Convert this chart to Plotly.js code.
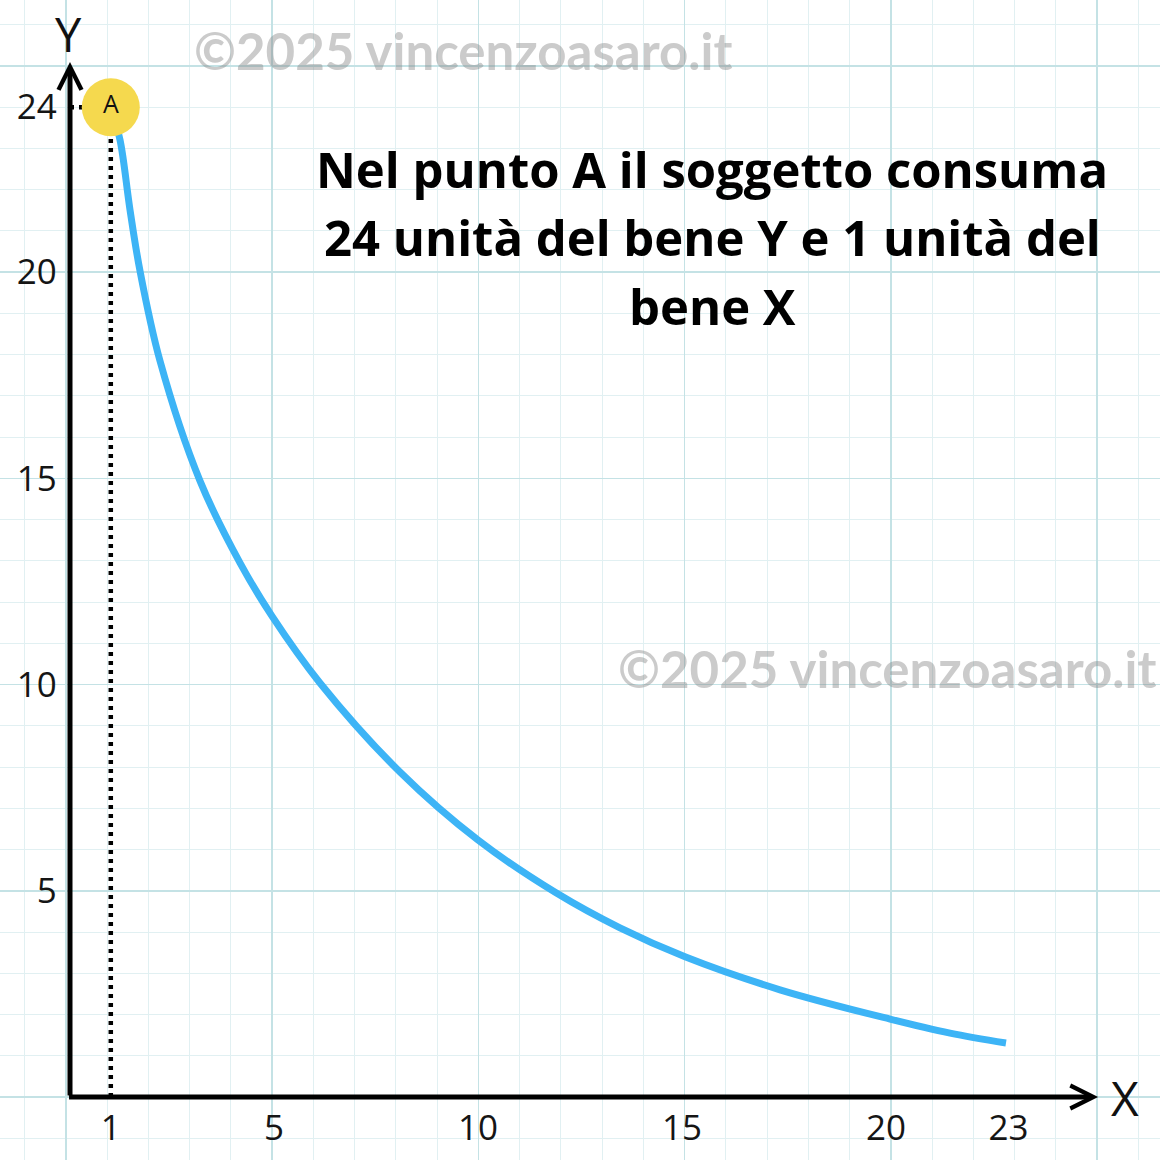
<!DOCTYPE html>
<html>
<head>
<meta charset="utf-8">
<script src="https://cdn.plot.ly/plotly-3.0.1.min.js"></script>
<style>
  html, body { margin: 0; padding: 0; background: #ffffff; }
  #chart { width: 1160px; height: 1160px; }
</style>
</head>
<body>
<div id="chart"></div>
<script>
// indifference curve (x = bene X, y = bene Y)
const curveX = [1, 1.225, 1.471, 1.716, 2.206, 3.186, 4.167, 4.951, 6.127, 8.088, 10.0,
                11.912, 13.480, 15.074, 17.402, 20.098, 21.569, 22.941];
const curveY = [24, 23.21, 21.51, 20.03, 17.85, 14.94, 12.95, 11.66, 10.04, 7.88, 6.23,
                4.95, 4.10, 3.40, 2.60, 1.89, 1.55, 1.31];

// point A
const pointX = [1];
const pointY = [24];
const pointLabel = ['A'];

// tick labels
const xTicks = [1, 5, 10, 15, 20, 23];
const yTicks = [5, 10, 15, 20, 24];

const titleLines = [
    'Nel punto A il soggetto consuma',
    '24 unità del bene Y e 1 unità del',
    'bene X'
];
const watermark = '©2025 vincenzoasaro.it';

const W = 1160, H = 1160;

// pixel helpers for paper coordinates of free text
const px = (v) => v / W;
const py = (v) => 1 - v / H;

// grid axes (background squares), 41.24 px per unit from the corner
const gridRangeX = [-66 / 41.24, (W - 66) / 41.24];
const gridRangeY = [-(H - 1097) / 41.24, 1097 / 41.24];
// data x axis, fitted on tick labels
const dataRangeX = [-70 / 40.8, (W - 70) / 40.8];

const tickFont = { family: 'Open Sans', size: 35, color: '#151515' };
const dotted = { color: '#000000', width: 4.5, dash: '4px,5px' };

let traces = [
    // base subplot holder
    { x: [], y: [], xaxis: 'x', yaxis: 'y', type: 'scatter', mode: 'lines', showlegend: false, hoverinfo: 'skip' },
    // y label axis holder
    { x: [], y: [], xaxis: 'x', yaxis: 'y2', type: 'scatter', mode: 'lines', showlegend: false, hoverinfo: 'skip' },

    // dotted drop lines from A
    {
        x: [pointX[0], pointX[0]], y: [0, pointY[0]],
        xaxis: 'x2', yaxis: 'y', type: 'scatter', mode: 'lines',
        line: dotted, showlegend: false, hoverinfo: 'skip'
    },
    {
        x: [0, pointX[0]], y: [pointY[0], pointY[0]],
        xaxis: 'x2', yaxis: 'y', type: 'scatter', mode: 'lines',
        line: dotted, showlegend: false, hoverinfo: 'skip'
    },

    // curve
    {
        x: curveX, y: curveY,
        xaxis: 'x2', yaxis: 'y', type: 'scatter', mode: 'lines',
        line: { color: '#3db4f6', width: 7, shape: 'spline', smoothing: 1 },
        showlegend: false
    },

    // A
    {
        x: pointX, y: pointY, text: pointLabel,
        xaxis: 'x2', yaxis: 'y', type: 'scatter', mode: 'markers+text',
        marker: { size: 58, color: '#f5d94e', line: { width: 0 } },
        textposition: 'middle center',
        textfont: { family: 'Open Sans', size: 25, color: '#111111' },
        showlegend: false
    }
];

let annotations = [];

// axes with arrows
annotations.push({
    xref: 'x2', yref: 'y', axref: 'x2', ayref: 'y',
    x: 25.2, y: 0, ax: -0.06, ay: 0,
    showarrow: true, arrowhead: 5, arrowsize: 0.9, arrowwidth: 5, arrowcolor: '#000000',
    text: '', standoff: 0, startstandoff: 0
});
annotations.push({
    xref: 'x2', yref: 'y', axref: 'x2', ayref: 'y',
    x: 0, y: 25.1, ax: 0, ay: 0,
    showarrow: true, arrowhead: 5, arrowsize: 0.9, arrowwidth: 5, arrowcolor: '#000000',
    text: '', standoff: 0, startstandoff: 0
});

// axis names
annotations.push({
    xref: 'paper', yref: 'paper', x: px(68), y: py(34), text: 'Y', showarrow: false,
    xanchor: 'center', yanchor: 'middle',
    font: { family: 'Open Sans', size: 47, color: '#111111' }
});
annotations.push({
    xref: 'paper', yref: 'paper', x: px(1125), y: py(1097), text: 'X', showarrow: false,
    xanchor: 'center', yanchor: 'middle',
    font: { family: 'Open Sans', size: 48, color: '#111111' }
});

// watermarks
[[463, 50], [887, 668]].forEach(([wx, wy]) => {
    annotations.push({
        xref: 'paper', yref: 'paper', x: px(wx), y: py(wy), text: watermark, showarrow: false,
        xanchor: 'center', yanchor: 'middle',
        font: { family: 'Lato', size: 51, weight: 700, color: 'rgba(130,130,130,0.42)' }
    });
});

// text block
const lineY = [169, 237, 306];
titleLines.forEach((t, i) => {
    annotations.push({
        xref: 'paper', yref: 'paper', x: px(712), y: py(lineY[i]), text: t, showarrow: false,
        xanchor: 'center', yanchor: 'middle',
        font: { family: 'Open Sans', size: 49, weight: 700, color: '#000000' }
    });
});

let layout = {
    width: W,
    height: H,
    margin: { l: 0, r: 0, t: 0, b: 0, pad: 0 },
    paper_bgcolor: '#ffffff',
    plot_bgcolor: '#ffffff',
    showlegend: false,
    xaxis: {
        range: gridRangeX, dtick: 5, tick0: 0,
        showgrid: true, gridcolor: '#c4e2e5', gridwidth: 1.5,
        minor: { dtick: 1, tick0: 0, showgrid: true, gridcolor: '#e1f0f2', gridwidth: 1 },
        showticklabels: false, ticks: '', zeroline: false, showline: false,
        fixedrange: true, automargin: false
    },
    yaxis: {
        range: gridRangeY, dtick: 5, tick0: 0,
        showgrid: true, gridcolor: '#c4e2e5', gridwidth: 1.5,
        minor: { dtick: 1, tick0: 0, showgrid: true, gridcolor: '#e1f0f2', gridwidth: 1 },
        showticklabels: false, ticks: '', zeroline: false, showline: false,
        fixedrange: true, automargin: false
    },
    xaxis2: {
        overlaying: 'x', range: dataRangeX, anchor: 'free', position: 0.048, side: 'bottom',
        tickmode: 'array', tickvals: xTicks, tickfont: tickFont,
        showgrid: false, zeroline: false, showline: false, ticks: '',
        fixedrange: true, automargin: false
    },
    yaxis2: {
        overlaying: 'y', range: gridRangeY, anchor: 'free', position: 0.049, side: 'left',
        tickmode: 'array', tickvals: yTicks, tickfont: tickFont,
        showgrid: false, zeroline: false, showline: false, ticks: '',
        fixedrange: true, automargin: false
    },
    annotations: annotations
};

Plotly.newPlot('chart', traces, layout, { displayModeBar: false, staticPlot: true });
</script>
</body>
</html>
